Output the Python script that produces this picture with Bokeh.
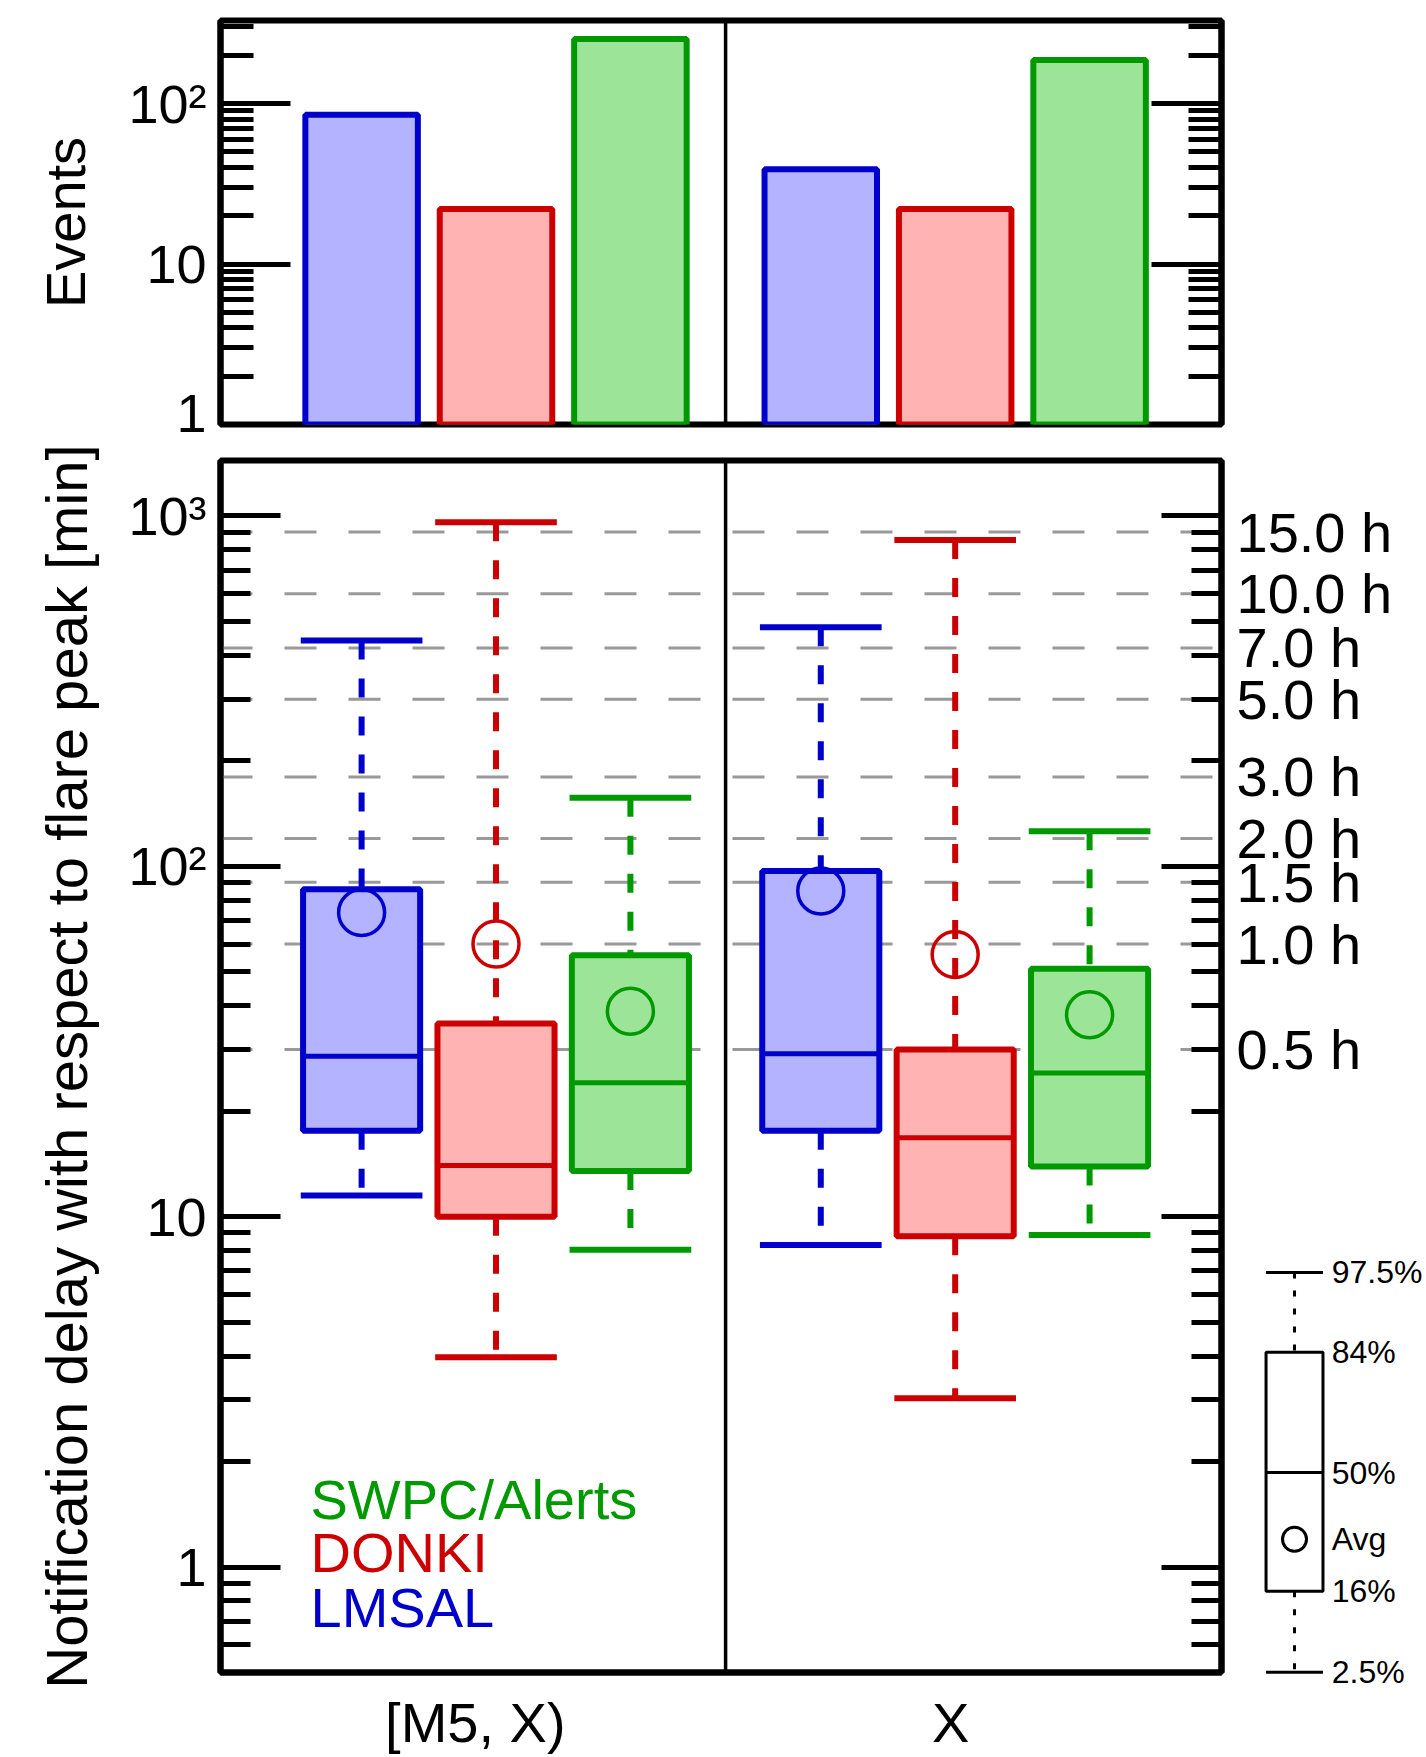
from math import pi
from bokeh.plotting import figure
from bokeh.layouts import column
from bokeh.models import LogAxis, FixedTicker, Span, Range1d, Label, ColumnDataSource
from bokeh.embed import file_html
from bokeh.resources import INLINE
from bokeh.core.properties import value

FONT = "Liberation Sans"

# ---------------- data ----------------
groups = ["[M5, X)", "X"]
group_x = [1.0, 2.0]
label_x = [0.955, 1.99]
sources = ["LMSAL", "DONKI", "SWPC/Alerts"]
edge_colors = ["#0000cc", "#cc0000", "#009900"]
fill_colors = ["#b3b3ff", "#ffb3b3", "#9ce598"]

# top panel: number of events (LMSAL, DONKI, SWPC)
events_m5x = [85, 22, 252]
events_x = [39, 22, 187]

# bottom panel: notification delay [min] (LMSAL, DONKI, SWPC)
m5x_p975 = [441, 960, 157]
m5x_p84 = [86, 35.6, 55.7]
m5x_p50 = [28.7, 14.0, 24.1]
m5x_p16 = [17.6, 10.0, 13.5]
m5x_p025 = [11.5, 3.97, 8.05]
m5x_mean = [73.8, 60.0, 38.6]

x_p975 = [481, 854, 126]
x_p84 = [97, 30.0, 51]
x_p50 = [29.2, 16.8, 25.7]
x_p16 = [17.6, 8.8, 13.9]
x_p025 = [8.3, 3.03, 8.86]
x_mean = [85, 56, 37.7]

hour_ticks_min = [30, 60, 90, 120, 180, 300, 420, 600, 900]
hour_labels = ["0.5 h", "1.0 h", "1.5 h", "2.0 h", "3.0 h", "5.0 h", "7.0 h", "10.0 h", "15.0 h"]

key_levels = [6.93, 4.10, 1.86, 1.20, 0.853, 0.501]
key_labels = ["97.5%", "84%", "50%", "Avg", "16%", "2.5%"]

# ---------------- layout constants ----------------
offsets = [-0.2927, 0.0, 0.2927]
BAR_W = 0.245
BOX_W = 0.255
XR = (0.4, 2.58)
KEY_X = 2.739
KEY_HW = 0.062
KEY_LX = 2.820
LEGEND_X = 0.596
legend_y = [0.764, 1.102, 1.554]

xs = [g + o for g in group_x for o in offsets]
edges = edge_colors * 2
fills = fill_colors * 2


def style_log_axis(ax, ticks, minor, major_len, minor_len, labels, font_size="54px", standoff=14):
    ax.ticker = FixedTicker(ticks=ticks, minor_ticks=minor)
    ax.major_tick_in = major_len
    ax.major_tick_out = 0
    ax.minor_tick_in = minor_len
    ax.minor_tick_out = 0
    ax.major_tick_line_width = 5
    ax.minor_tick_line_width = 5
    ax.major_tick_line_color = "black"
    ax.minor_tick_line_color = "black"
    ax.axis_line_width = 6
    ax.axis_line_color = "black"
    ax.major_label_text_font = FONT
    ax.major_label_text_font_size = font_size
    ax.major_label_text_color = "black"
    ax.major_label_standoff = standoff
    ax.major_label_overrides = labels


def base_fig(fh, yr, top_b, bot_b, x_axis):
    p = figure(frame_width=1001, frame_height=fh, x_range=Range1d(*XR), y_range=Range1d(*yr),
               y_axis_type="log", x_axis_location=("below" if x_axis else None),
               toolbar_location=None, output_backend="svg",
               min_border_left=220, min_border_right=205, min_border_top=top_b, min_border_bottom=bot_b)
    p.xgrid.visible = False
    p.ygrid.visible = False
    p.outline_line_color = "black"
    p.outline_line_width = 6
    p.background_fill_color = "white"
    p.border_fill_color = "white"
    return p


# ---------------- top panel ----------------
top = base_fig(404, (1, 329), 20, 18, False)
top_ticks = [1, 10, 100]
top_minor = [m * 10 ** e for e in range(0, 3) for m in range(2, 10) if m * 10 ** e < 329]
lax = top.yaxis[0]
style_log_axis(lax, top_ticks, top_minor, 70, 33, {1: "1", 10: "10", 100: "10²"})
lax.axis_label = "Events"
lax.axis_label_text_font = FONT
lax.axis_label_text_font_size = "56px"
lax.axis_label_text_font_style = "normal"
lax.axis_label_text_color = "black"
lax.axis_label_standoff = 28
rax = LogAxis()
style_log_axis(rax, top_ticks, top_minor, 70, 33, {t: "" for t in top_ticks}, standoff=0)
top.add_layout(rax, "right")

bar_src = ColumnDataSource(dict(x=xs, top=events_m5x + events_x, fill=fills, edge=edges))
top.vbar(x="x", top="top", bottom=1, width=BAR_W, source=bar_src, fill_color="fill",
         line_color="edge", line_width=6)
top.add_layout(Span(location=1.5, dimension="height", line_color="black", line_width=3.5))

# ---------------- bottom panel ----------------
bot = base_fig(1212, (0.5, 1440), 18, 85, True)
bot_ticks = [1, 10, 100, 1000]
bot_minor = [m * 10 ** e for e in range(-1, 4) for m in range(2, 10) if 0.5 < m * 10 ** e < 1440]
bl = bot.yaxis[0]
style_log_axis(bl, bot_ticks, bot_minor, 60, 30, {1: "1", 10: "10", 100: "10²", 1000: "10³"})
bl.axis_label = "Notification delay with respect to flare peak [min]"
bl.axis_label_text_font = FONT
bl.axis_label_text_font_size = "58px"
bl.axis_label_text_font_style = "normal"
bl.axis_label_text_color = "black"
bl.axis_label_standoff = 26

br = LogAxis()
style_log_axis(br, bot_ticks, bot_minor, 60, 30, {t: "" for t in bot_ticks}, standoff=0)
bot.add_layout(br, "right")

hax = LogAxis()
hax.ticker = FixedTicker(ticks=hour_ticks_min, minor_ticks=[])
hax.major_label_overrides = dict(zip(hour_ticks_min, hour_labels))
hax.major_tick_line_color = None
hax.minor_tick_line_color = None
hax.axis_line_color = None
hax.major_label_standoff = 9
hax.major_label_text_font = FONT
hax.major_label_text_font_size = "56px"
hax.major_label_text_color = "black"
bot.add_layout(hax, "right")

bx = bot.xaxis[0]
bx.ticker = FixedTicker(ticks=label_x)
bx.major_label_overrides = dict(zip(label_x, groups))
bx.major_tick_line_color = None
bx.minor_tick_line_color = None
bx.axis_line_width = 6
bx.axis_line_color = "black"
bx.major_label_text_font = FONT
bx.major_label_text_font_size = "56px"
bx.major_label_text_color = "black"
bx.major_label_standoff = 12

for h in hour_ticks_min:
    bot.add_layout(Span(location=h, dimension="width", line_color="#999999", line_width=3,
                        line_dash="32 32", level="underlay"))
bot.add_layout(Span(location=1.5, dimension="height", line_color="black", line_width=3.5))

box_src = ColumnDataSource(dict(
    x=xs, x0=[x - BOX_W / 2 - 0.005 for x in xs], x1=[x + BOX_W / 2 + 0.005 for x in xs],
    m0=[x - BOX_W / 2 for x in xs], m1=[x + BOX_W / 2 for x in xs],
    p975=m5x_p975 + x_p975, p84=m5x_p84 + x_p84, p50=m5x_p50 + x_p50,
    p16=m5x_p16 + x_p16, p025=m5x_p025 + x_p025, mean=m5x_mean + x_mean,
    edge=edges, fill=fills))

bot.segment(x0="x", y0="p975", x1="x", y1="p84", source=box_src, line_color="edge",
            line_width=6, line_dash="19 19")
bot.segment(x0="x", y0="p16", x1="x", y1="p025", source=box_src, line_color="edge",
            line_width=6, line_dash="19 19")
bot.segment(x0="x0", y0="p975", x1="x1", y1="p975", source=box_src, line_color="edge", line_width=6)
bot.segment(x0="x0", y0="p025", x1="x1", y1="p025", source=box_src, line_color="edge", line_width=6)
bot.vbar(x="x", width=BOX_W, top="p84", bottom="p16", source=box_src, fill_color="fill",
         line_color="edge", line_width=6)
bot.segment(x0="m0", y0="p50", x1="m1", y1="p50", source=box_src, line_color="edge", line_width=5)
bot.scatter(x="x", y="mean", source=box_src, marker="circle", size=46, fill_color=None,
            line_color="edge", line_width=3.5)

# source names (legend text)
for name, col, yv in zip(sources, edge_colors, legend_y):
    bot.add_layout(Label(x=LEGEND_X, y=yv, text=name, text_color=col, text_font=FONT,
                         text_font_size="56px", text_baseline="alphabetic"))

# key schematic outside the frame
ksrc = ColumnDataSource(dict(x=[KEY_X, KEY_X], y0=[key_levels[0], key_levels[4]],
                             y1=[key_levels[1], key_levels[5]]))
bot.segment(x0="x", y0="y0", x1="x", y1="y1", source=ksrc, line_color="black", line_width=3,
            line_dash="6 12", level="overlay")
bot.segment(x0=[KEY_X - KEY_HW] * 2, x1=[KEY_X + KEY_HW] * 2, y0=[key_levels[0], key_levels[5]],
            y1=[key_levels[0], key_levels[5]], line_color="black", line_width=3, level="overlay")
bot.quad(left=[KEY_X - KEY_HW], right=[KEY_X + KEY_HW], top=[key_levels[1]], bottom=[key_levels[4]],
         fill_color=None, line_color="black", line_width=3, level="overlay")
bot.segment(x0=[KEY_X - KEY_HW], x1=[KEY_X + KEY_HW], y0=[key_levels[2]], y1=[key_levels[2]],
            line_color="black", line_width=3, level="overlay")
bot.arc(x=[KEY_X], y=[key_levels[3]], radius=12, radius_units="screen", start_angle=0,
        end_angle=2 * pi, line_color="black", line_width=3, level="overlay")
bot.text(x=[KEY_LX] * len(key_labels), y=key_levels, text=key_labels, text_color="black",
         text_font=value(FONT), text_font_size="32px", text_baseline="middle",
         text_align="left", level="overlay")

layout = column(top, bot)
open("out.html", "w").write(file_html(layout, INLINE))
